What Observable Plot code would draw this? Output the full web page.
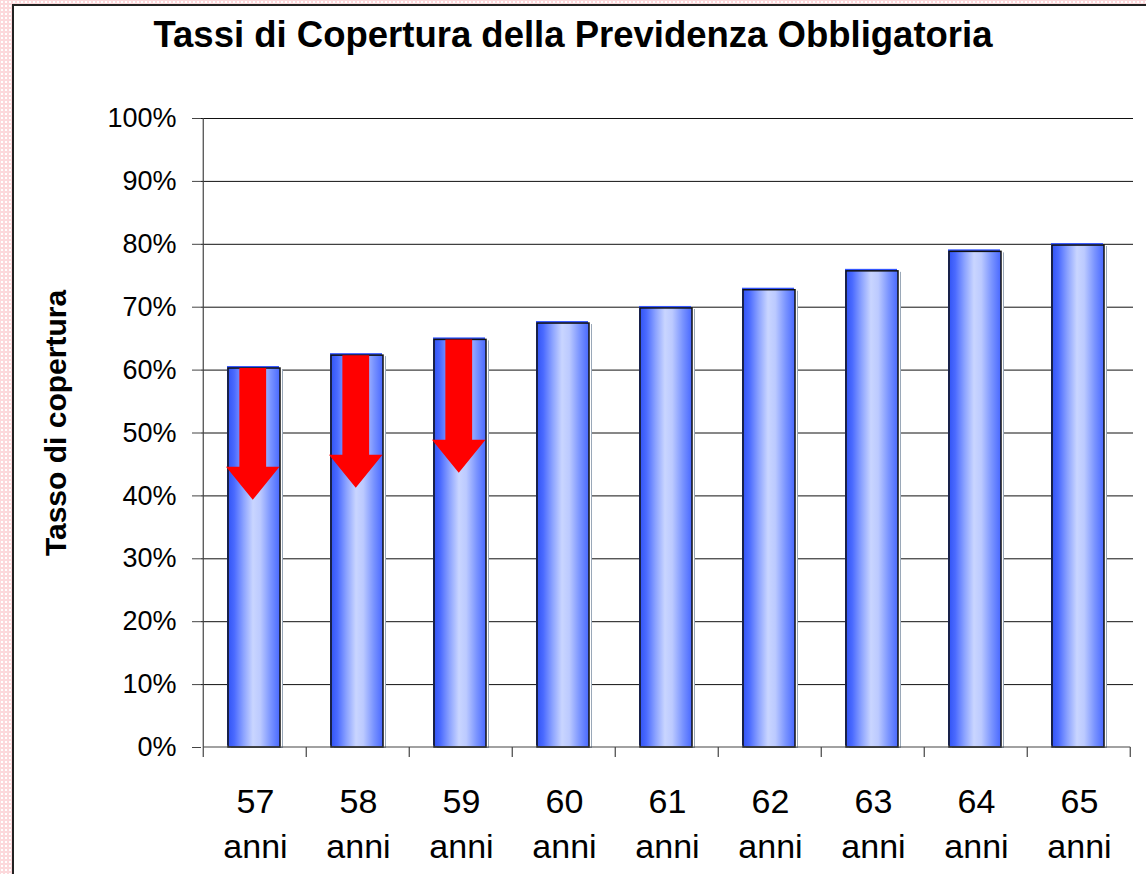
<!DOCTYPE html>
<html>
<head>
<meta charset="utf-8">
<script src="https://cdn.jsdelivr.net/npm/d3@7"></script>
<script src="https://cdn.jsdelivr.net/npm/@observablehq/plot@0.6"></script>
<style>
  html, body { margin: 0; padding: 0; background: #fff; }
  #wrap { position: relative; width: 1146px; height: 874px; overflow: hidden;
    background-color: #fcd9dc;
    background-image: radial-gradient(#fff 0.9px, transparent 1.4px);
    background-size: 4px 4px; }
  #panel { position: absolute; left: 12px; top: 4px; width: 1140px; height: 880px;
    background: #fff; border-left: 2px solid #222; border-top: 2px solid #222; box-sizing: border-box; }
  #title { position: absolute; left: 0; top: 17px; width: 1146px; text-align: center; line-height: 1;
    font-family: "Liberation Sans", Arial, sans-serif; font-weight: bold; font-size: 36.5px; color: #000; white-space: nowrap; }
  #chart { position: absolute; left: 0; top: 0; }
  #chart svg { background: transparent !important; }
</style>
</head>
<body>
<div id="wrap">
  <div id="panel"></div>
  <div id="title">Tassi di Copertura della Previdenza Obbligatoria</div>
  <div id="chart"></div>
</div>
<script>
// ---- data ----
const ages = ["57", "58", "59", "60", "61", "62", "63", "64", "65"];
const rates = [60.25, 62.3, 64.8, 67.4, 69.8, 72.7, 75.7, 78.8, 79.8];
const arrowAges = ["57", "58", "59"];
const arrowFrom = [60.25, 62.3, 64.8];
const arrowTip = [39.3, 41.2, 43.6];
const yTicks = [0, 10, 20, 30, 40, 50, 60, 70, 80, 90, 100];

const bars = ages.map((a, i) => ({age: a, rate: rates[i] / 100}));
const arrows = arrowAges.map((a, i) => ({age: a, from: arrowFrom[i] / 100, to: arrowTip[i] / 100}));

const font = '"Liberation Sans", Arial, sans-serif';

const defs = () => {
  const d = d3.create("svg:defs");
  const g = d.append("linearGradient").attr("id", "barGrad").attr("x1", 0).attr("x2", 1).attr("y1", 0).attr("y2", 0);
  [[0, "#3254f5"], [0.12, "#4a6aff"], [0.3, "#8ca3ff"], [0.48, "#c9d5ff"], [0.62, "#bccaff"], [0.82, "#7a94ff"], [1, "#4868ff"]]
    .forEach(([o, c]) => g.append("stop").attr("offset", o).attr("stop-color", c));
  return d.node();
};

function step(x) { return x(ages[1]) - x(ages[0]); }

const axisLines = (index, {x, y}) => {
  const g = d3.create("svg:g");
  const s = step(x);
  const x0 = x(ages[0]) - s / 4;
  const yb = y(0);
  g.append("line").attr("x1", x0).attr("x2", x0).attr("y1", y(1)).attr("y2", yb)
    .attr("stroke", "#444").attr("stroke-width", 1.2);
  for (let i = 0; i <= ages.length; i++) {
    const bx = x0 + i * s;
    g.append("line").attr("x1", bx).attr("x2", bx).attr("y1", yb).attr("y2", yb + 10)
      .attr("stroke", "#444").attr("stroke-width", 1.2);
  }
  g.append("line").attr("x1", x0).attr("x2", x0 + ages.length * s).attr("y1", yb).attr("y2", yb)
    .attr("stroke", "#444").attr("stroke-width", 1.2);
  return g.node();
};

const arrowMark = (index, {x, y}) => {
  const g = d3.create("svg:g");
  const s = step(x);
  const bw = s * 0.5;
  for (const a of arrows) {
    const cx = x(a.age) + bw / 2 - 2;
    const top = y(a.from), tip = y(a.to), base = tip - 33;
    const sw = bw * 0.26, hw = bw * 0.52;
    const pts = [[cx - sw, top], [cx + sw, top], [cx + sw, base], [cx + hw, base], [cx, tip],
                 [cx - hw, base], [cx - sw, base]];
    g.append("polygon").attr("points", pts.map(p => p.join(",")).join(" ")).attr("fill", "#ff0000");
  }
  return g.node();
};

const chart = Plot.plot({
  width: 1146,
  height: 874,
  marginLeft: 201,
  marginRight: 13,
  marginTop: 118,
  marginBottom: 127,
  style: {fontFamily: font, background: "transparent"},
  x: {domain: ages, paddingInner: 0.5, paddingOuter: 0.25, axis: null},
  y: {domain: [0, 1], ticks: yTicks.map(t => t / 100), tickFormat: d => Math.round(d * 100) + "%"},
  marks: [
    defs,
    Plot.ruleY(yTicks.slice(1).map(t => t / 100), {stroke: "#111", strokeWidth: 1}),
    Plot.axisY({ticks: yTicks.map(t => t / 100), tickFormat: d => Math.round(d * 100) + "%",
      tickSize: 9, tickPadding: 16, fontSize: 27, stroke: "#444", fill: "#000", label: null}),
    Plot.text(["Tasso di copertura"], {frameAnchor: "left", dx: -145, dy: -10, rotate: -90, textAnchor: "middle",
      lineAnchor: "middle", fontSize: 30, fontWeight: "bold", fill: "#000"}),
    Plot.barY(bars, {x: "age", y: "rate", fill: "#9aa8b8", dx: 2, dy: 1}),
    Plot.barY(bars, {x: "age", y: "rate", fill: "#fff", dx: 1, dy: 0}),
    Plot.barY(bars, {x: "age", y: "rate", fill: "#3355ff", dx: -2, dy: -2}),
    Plot.barY(bars, {x: "age", y: "rate", fill: "url(#barGrad)", stroke: "#111", strokeWidth: 1.5, dx: -1}),
    arrowMark,
    axisLines,
    Plot.text(ages, {x: d => d, text: d => d + "\nanni", frameAnchor: "bottom", dy: 34,
      lineAnchor: "top", lineHeight: 1.32, fontSize: 34, fill: "#000"})
  ]
});
document.getElementById("chart").appendChild(chart);
</script>
</body>
</html>
